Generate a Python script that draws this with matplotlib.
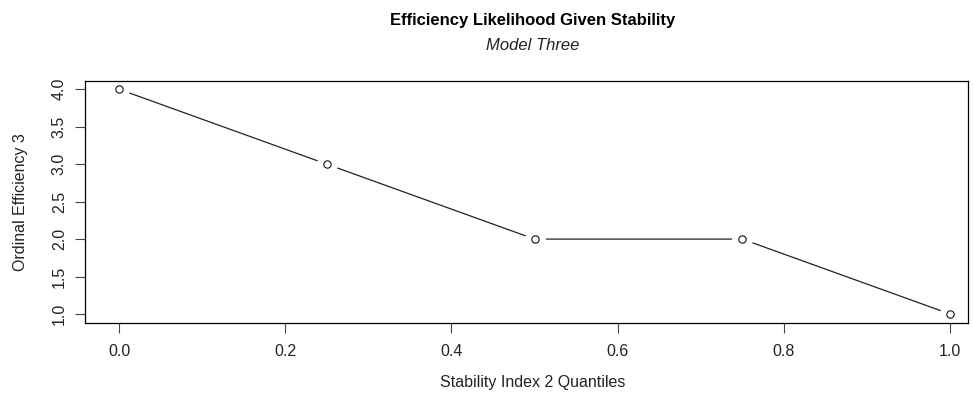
import matplotlib.pyplot as plt

# Data
quantiles = [0.0, 0.25, 0.5, 0.75, 1.0]
efficiency = [4, 3, 2, 2, 1]
x_ticks = [0.0, 0.2, 0.4, 0.6, 0.8, 1.0]
y_ticks = [1.0, 1.5, 2.0, 2.5, 3.0, 3.5, 4.0]

plt.rcParams['font.family'] = ['Liberation Sans', 'DejaVu Sans']

fig = plt.figure(figsize=(9.73, 3.94), dpi=100)
ax = fig.add_axes([85 / 973, 1 - 323 / 394, 883 / 973, 242 / 394])

# R style type="b": line with gaps around open points
ax.plot(quantiles, efficiency, color='#222222', lw=0.9, zorder=1)
ax.scatter(quantiles, efficiency, s=200, color='white', zorder=2)
ax.scatter(quantiles, efficiency, s=28, facecolor='white', edgecolor='#111111',
           linewidth=0.8, zorder=3)

ax.set_xlim(-0.041, 1.0217)
ax.set_ylim(0.88, 4.11)
ax.set_xticks(x_ticks)
ax.set_xticklabels([f'{v:.1f}' for v in x_ticks])
ax.set_yticks(y_ticks)
ax.set_yticklabels([f'{v:.1f}' for v in y_ticks], rotation=90, va='center')
ax.tick_params(direction='out', length=7, width=0.8, labelsize=11.5,
               color='#444444', labelcolor='#222222')
ax.tick_params(axis='x', pad=8)
ax.tick_params(axis='y', pad=6)
for s in ax.spines.values():
    s.set_linewidth(0.9)

ax.set_ylabel('Ordinal Efficiency 3', fontsize=11.5, color='#222222', labelpad=17)

fig.text(533 / 973, 1 - 20 / 394, 'Efficiency Likelihood Given Stability',
         ha='center', va='center', fontsize=12, fontweight='bold')
fig.text(533 / 973, 1 - 46 / 394, 'Model Three', ha='center', va='center',
         fontsize=12, style='italic', color='#222222')
fig.text(533 / 973, 1 - 383 / 394, 'Stability Index 2 Quantiles',
         ha='center', va='center', fontsize=11.5, color='#222222')

fig.savefig('out.png', dpi=100)
